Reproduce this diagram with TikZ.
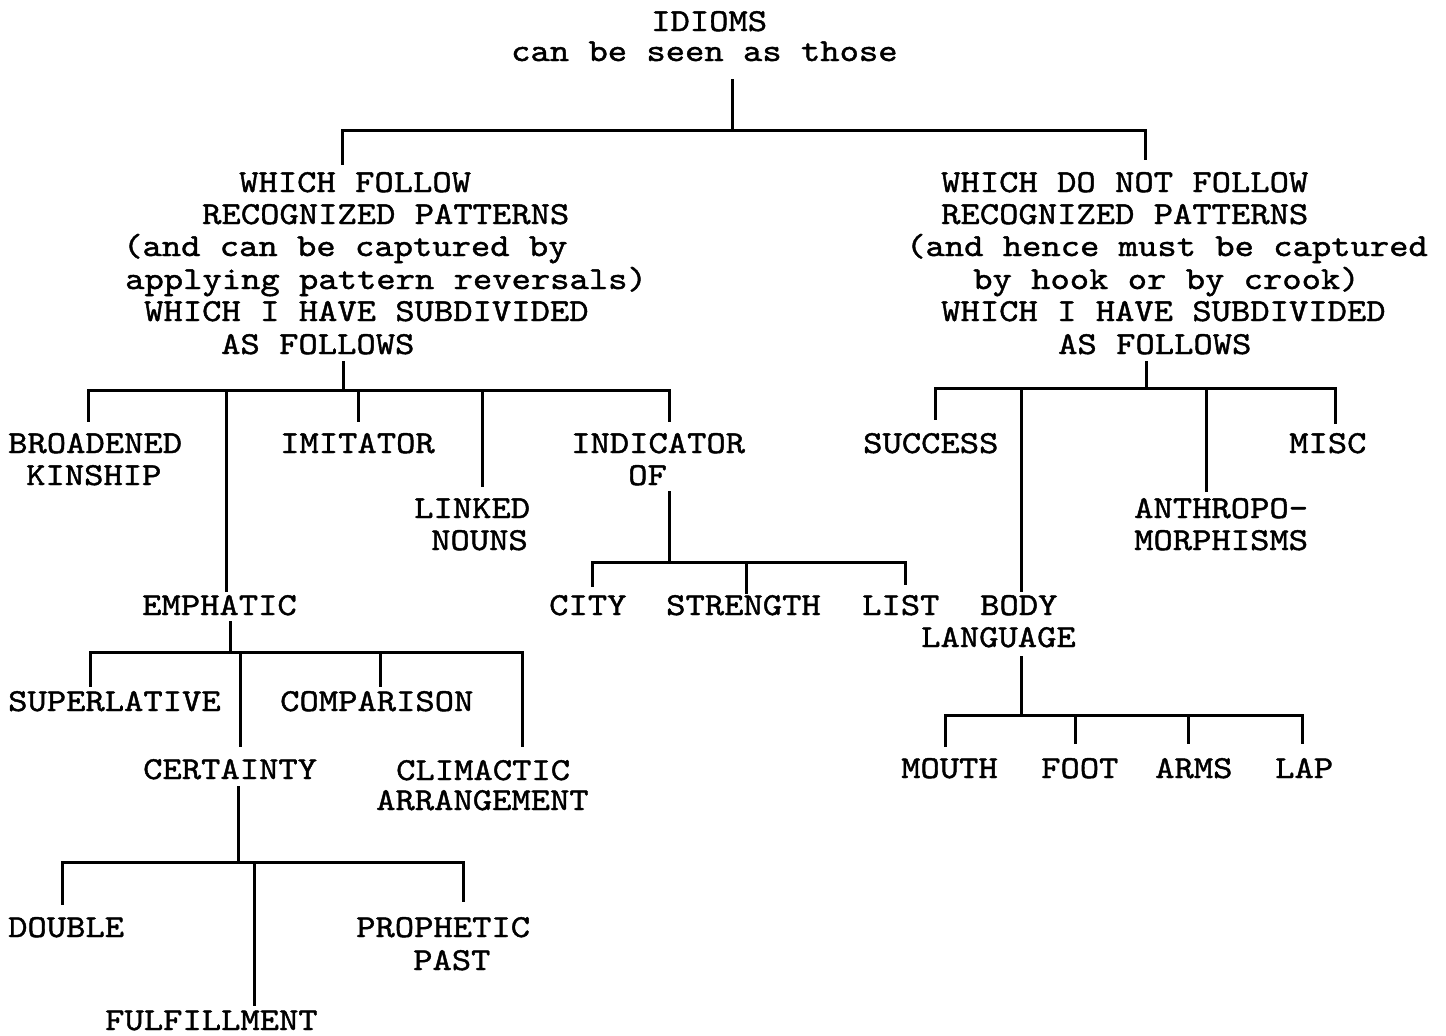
\documentclass[tikz,border=0pt]{standalone}
\usepackage{fontspec}
\newfontfamily\tw{lmmono10-regular.otf}[FakeBold=1.3, FakeStretch=1.15]
\begin{document}
\begin{tikzpicture}[x=1pt,y=-1pt,
  lbl/.style={anchor=base west, inner sep=0pt, font=\tw\fontsize{32}{32}\selectfont},
  wire/.style={line width=3pt, line join=miter, line cap=rect}]
\useasboundingbox[fill=white] (0,0) rectangle (1446,1036);

% ---- texts ----
\node[lbl] (idioms) at (651,31) {IDIOMS};
\node[lbl] (seen)   at (511,61) {can be seen as those};

\node[lbl] (fa) at (239,192) {WHICH FOLLOW};
\node[lbl] (fb) at (202,224) {RECOGNIZED PATTERNS};
\node[lbl] (fc) at (123,256) {(and can be captured by};
\node[lbl] (fd) at (125,289) {applying pattern reversals)};
\node[lbl] (fe) at (144,321) {WHICH I HAVE SUBDIVIDED};
\node[lbl] (ff) at (221,354) {AS FOLLOWS};

\node[lbl] (na) at (941,192) {WHICH DO NOT FOLLOW};
\node[lbl] (nb) at (941,224) {RECOGNIZED PATTERNS};
\node[lbl] (nc) at (906,256) {(and hence must be captured};
\node[lbl] (nd) at (973,289) {by hook or by crook)};
\node[lbl] (ne) at (941,321) {WHICH I HAVE SUBDIVIDED};
\node[lbl] (nf) at (1058,354) {AS FOLLOWS};

\node[lbl] (broad)  at (8,453)   {BROADENED};
\node[lbl] (kin)    at (26,485)  {KINSHIP};
\node[lbl] (imit)   at (280,453) {IMITATOR};
\node[lbl] (linked) at (414,518) {LINKED};
\node[lbl] (nouns)  at (431,550) {NOUNS};
\node[lbl] (indic)  at (571,453) {INDICATOR};
\node[lbl] (of)     at (628,485) {OF};
\node[lbl] (city)   at (549,615) {CITY};
\node[lbl] (streng) at (666,615) {STRENGTH};
\node[lbl] (list)   at (862,615) {LIST};

\node[lbl] (emph)   at (142,615) {EMPHATIC};
\node[lbl] (superl) at (8,711)   {SUPERLATIVE};
\node[lbl] (compar) at (280,711) {COMPARISON};
\node[lbl] (certa)  at (143,779) {CERTAINTY};
\node[lbl] (climac) at (396,780) {CLIMACTIC};
\node[lbl] (arrang) at (376,810) {ARRANGEMENT};
\node[lbl] (double) at (8,937)   {DOUBLE};
\node[lbl] (proph)  at (356,937) {PROPHETIC};
\node[lbl] (past)   at (413,970) {PAST};
\node[lbl] (fulfil) at (105,1030) {FULFILLMENT};

\node[lbl] (succ)   at (863,453)  {SUCCESS};
\node[lbl] (misc)   at (1289,453) {MISC};
\node[lbl] (anthro) at (1134,518) {ANTHROPO-};
\node[lbl] (morph)  at (1134,550) {MORPHISMS};
\node[lbl] (body)   at (980,615)  {BODY};
\node[lbl] (lang)   at (921,647)  {LANGUAGE};
\node[lbl] (mouth)  at (901,778)  {MOUTH};
\node[lbl] (foot)   at (1041,778) {FOOT};
\node[lbl] (arms)   at (1155,778) {ARMS};
\node[lbl] (lap)    at (1275,778) {LAP};

% ---- junction coordinates ----
\coordinate (r0) at (732,80);   \coordinate (r1) at (732,130);
\coordinate (rL) at (342,130);  \coordinate (rR) at (1145,130);
\coordinate (rLe) at (342,163); \coordinate (rRe) at (1145,158);

\coordinate (a0) at (343,362);  \coordinate (a1) at (343,390);
\coordinate (aL) at (88,390);   \coordinate (aR) at (669,390);
\coordinate (a1e) at (88,420);  \coordinate (a2) at (226,390); \coordinate (a2e) at (226,590);
\coordinate (a3) at (358,390);  \coordinate (a3e) at (358,420);
\coordinate (a4) at (482,390);  \coordinate (a4e) at (482,485);
\coordinate (a5e) at (669,420);

\coordinate (b0) at (669,492);  \coordinate (b1) at (669,562);
\coordinate (bL) at (592,562);  \coordinate (bR) at (905,562);
\coordinate (bLe) at (592,585); \coordinate (b2) at (746,562); \coordinate (b2e) at (746,592);
\coordinate (bRe) at (905,583);

\coordinate (c0) at (230,622);  \coordinate (c1) at (230,652);
\coordinate (cL) at (90,652);   \coordinate (cR) at (522,652);
\coordinate (cLe) at (90,685);  \coordinate (c2) at (240,652); \coordinate (c2e) at (240,745);
\coordinate (c3) at (380,652);  \coordinate (c3e) at (380,685);
\coordinate (cRe) at (522,745);

\coordinate (d0) at (238,787);  \coordinate (d1) at (238,862);
\coordinate (dL) at (62,862);   \coordinate (dR) at (463,862);
\coordinate (dLe) at (62,903);  \coordinate (d2) at (254,862); \coordinate (d2e) at (254,1004);
\coordinate (dRe) at (463,900);

\coordinate (e0) at (1146,362); \coordinate (e1) at (1146,388);
\coordinate (eL) at (935,388);  \coordinate (eR) at (1335,388);
\coordinate (eLe) at (935,418); \coordinate (e2) at (1021,388); \coordinate (e2e) at (1021,590);
\coordinate (e3) at (1206,388); \coordinate (e3e) at (1206,490);
\coordinate (eRe) at (1335,422);

\coordinate (f0) at (1021,657); \coordinate (f1) at (1021,715);
\coordinate (fL) at (945,715);  \coordinate (fR) at (1302,715);
\coordinate (fLe) at (945,745); \coordinate (f2) at (1075,715); \coordinate (f2e) at (1075,742);
\coordinate (f3) at (1188,715); \coordinate (f3e) at (1188,742);
\coordinate (fRe) at (1302,742);

% ---- connectors ----
\draw[wire] (r0) -- (r1);
\draw[wire] (rLe) -- (rL) -- (rR) -- (rRe);

\draw[wire] (a0) -- (a1);
\draw[wire] (a1e) -- (aL) -- (aR) -- (a5e);
\draw[wire] (a2) -- (a2e);
\draw[wire] (a3) -- (a3e);
\draw[wire] (a4) -- (a4e);

\draw[wire] (b0) -- (b1);
\draw[wire] (bLe) -- (bL) -- (bR) -- (bRe);
\draw[wire] (b2) -- (b2e);

\draw[wire] (c0) -- (c1);
\draw[wire] (cLe) -- (cL) -- (cR) -- (cRe);
\draw[wire] (c2) -- (c2e);
\draw[wire] (c3) -- (c3e);

\draw[wire] (d0) -- (d1);
\draw[wire] (dLe) -- (dL) -- (dR) -- (dRe);
\draw[wire] (d2) -- (d2e);

\draw[wire] (e0) -- (e1);
\draw[wire] (eLe) -- (eL) -- (eR) -- (eRe);
\draw[wire] (e2) -- (e2e);
\draw[wire] (e3) -- (e3e);

\draw[wire] (f0) -- (f1);
\draw[wire] (fLe) -- (fL) -- (fR) -- (fRe);
\draw[wire] (f2) -- (f2e);
\draw[wire] (f3) -- (f3e);
\end{tikzpicture}
\end{document}
